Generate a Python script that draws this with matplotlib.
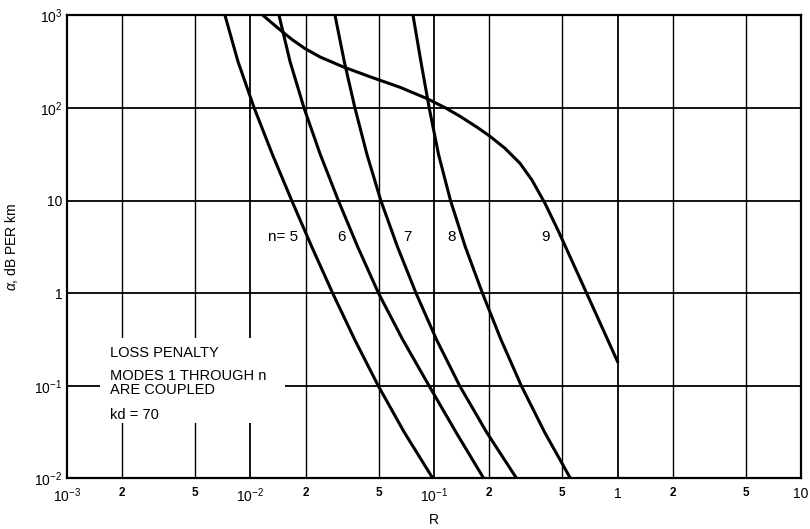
import matplotlib.pyplot as plt
from matplotlib.patches import Rectangle
from matplotlib.ticker import NullLocator

plt.rcParams['font.family'] = ['Liberation Sans', 'DejaVu Sans']
plt.rcParams['mathtext.fontset'] = 'custom'
plt.rcParams['mathtext.rm'] = 'Liberation Sans'
plt.rcParams['mathtext.it'] = 'Liberation Sans:italic'

# curves: R and alpha (dB per km), modes 1..n coupled
alpha = [1000, 316, 100, 31.6, 10, 3.16, 1, 0.316, 0.1, 0.0316, 0.01]
r5 = [0.00726, 0.00855, 0.01047, 0.01315, 0.01677, 0.02158, 0.02803,
      0.03693, 0.04965, 0.06873, 0.09852]
r6 = [0.01430, 0.01643, 0.01957, 0.02398, 0.03010, 0.03839, 0.04983,
      0.06744, 0.09393, 0.1316, 0.1866]
r7 = [0.02888, 0.03244, 0.03707, 0.04309, 0.05130, 0.06325, 0.07978,
      0.1031, 0.1379, 0.1932, 0.2818]
r8 = [0.07686, 0.08485, 0.09415, 0.1058, 0.1230, 0.1481, 0.1836,
      0.2315, 0.2990, 0.4001, 0.5538]

# n = 9 curve (ends at R = 1)
r9 = [0.01169, 0.01310, 0.01485, 0.01683, 0.01982, 0.02392, 0.03191, 0.04479,
      0.06528, 0.09161, 0.1148, 0.1386, 0.1715, 0.2020, 0.2437, 0.2942,
      0.3420, 0.403, 0.474, 0.551, 0.682, 1.0]
a9 = [1000, 825, 669, 548, 437, 355, 278, 217, 167, 126, 100.7, 81.2, 61.9,
      49.3, 36.6, 25.2, 16.6, 9.28, 4.77, 2.48, 0.978, 0.1826]

curve_labels = ['n= 5', '6', '7', '8', '9']
label_r = [0.01815, 0.0315, 0.0713, 0.1253, 0.403]
label_a = 4.0

x_major = [1e-3, 1e-2, 1e-1, 1, 10]
x_major_labels = [r'$10^{-3}$', r'$10^{-2}$', r'$10^{-1}$', '1', '10']
x_minor = [2e-3, 5e-3, 2e-2, 5e-2, 2e-1, 5e-1, 2, 5]
x_minor_labels = ['2', '5', '2', '5', '2', '5', '2', '5']
y_ticks = [1e-2, 1e-1, 1, 10, 1e2, 1e3]
y_labels = [r'$10^{-2}$', r'$10^{-1}$', '1', '10', r'$10^{2}$', r'$10^{3}$']

fig = plt.figure(figsize=(8.1, 5.29), dpi=100)
ax = fig.add_axes([0.0827, 0.0958, 0.9062, 0.8753])
ax.set_xscale('log')
ax.set_yscale('log')
ax.set_xlim(1e-3, 10)
ax.set_ylim(1e-2, 1e3)

ax.set_xticks(x_major)
ax.set_xticklabels(x_major_labels, fontsize=10)
ax.set_xticks(x_minor, minor=True)
ax.set_xticklabels(x_minor_labels, minor=True, fontsize=8.5, fontweight='bold')
ax.set_yticks(y_ticks)
ax.set_yticklabels(y_labels, fontsize=10)
ax.yaxis.set_minor_locator(NullLocator())
ax.tick_params(which='both', length=0)
ax.tick_params(axis='x', which='both', pad=6)
ax.tick_params(axis='y', pad=3.5)

ax.set_axisbelow(True)
ax.grid(which='major', color='black', linewidth=1.3)
ax.grid(which='minor', axis='x', color='black', linewidth=1.0)
for s in ax.spines.values():
    s.set_linewidth(1.6)

# white patch behind the note (it cuts the grid)
ax.add_patch(Rectangle((0.045, 0.119), 0.252, 0.184, transform=ax.transAxes,
                       facecolor='white', edgecolor='none', zorder=1))

for r in [r5, r6, r7, r8]:
    ax.plot(r, alpha, color='black', linewidth=2.2, zorder=2)
ax.plot(r9, a9, color='black', linewidth=2.2, zorder=2)

for i, lab in enumerate(curve_labels):
    ax.text(label_r[i], label_a, lab, fontsize=11, ha='right' if i == 0 else 'center',
            va='center', zorder=3)

note = [('LOSS PENALTY', 0.27), ('MODES 1 THROUGH n', 0.222),
        ('ARE COUPLED', 0.19), ('kd = 70', 0.136)]
for t, yy in note:
    ax.text(0.0585, yy, t, transform=ax.transAxes, fontsize=10.5, va='center', zorder=3)

ax.set_xlabel('R', fontsize=10)
ax.xaxis.set_label_coords(0.5, -0.075)
ax.set_ylabel(r'$\alpha$, dB PER km', fontsize=10)
ax.yaxis.set_label_coords(-0.064, 0.5)

plt.savefig('out.png', dpi=100)
